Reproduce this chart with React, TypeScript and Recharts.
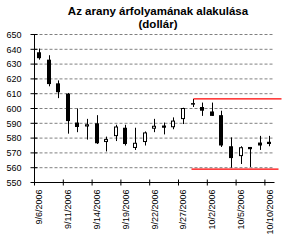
import { ComposedChart, Bar, XAxis, YAxis, CartesianGrid, ReferenceLine } from 'recharts'

const DATES = [
  '9/6/2006', '9/7/2006', '9/8/2006', '9/11/2006', '9/12/2006', '9/13/2006', '9/14/2006',
  '9/15/2006', '9/18/2006', '9/19/2006', '9/20/2006', '9/21/2006', '9/22/2006', '9/25/2006',
  '9/26/2006', '9/27/2006', '9/28/2006', '9/29/2006', '10/2/2006', '10/3/2006', '10/4/2006',
  '10/5/2006', '10/6/2006', '10/9/2006', '10/10/2006',
]
const OPEN = [638, 633, 617, 610, 590.5, 587.5, 590, 577, 581, 587, 573, 577, 586, 588.5, 587, 592.5, 603, 601, 598, 595.5, 574.5, 567.5, 574, 577, 577.5]
const HIGH = [640.5, 636, 619, 610.5, 600, 593, 595.5, 581, 589, 589, 587, 584.5, 593, 590.5, 594, 600.5, 606.5, 604, 604, 598.5, 580.5, 574.5, 574, 581.5, 581.5]
const LOW = [633, 615, 607, 583, 584, 579, 576, 571, 578, 575, 572, 575, 584, 582.5, 586, 589.5, 601, 595, 595, 574, 560, 562.5, 560.5, 572, 574.5]
const CLOSE = [634, 616.5, 611, 591.5, 587.5, 589, 576.5, 579, 587.5, 576, 576.5, 583.5, 588, 587, 591.5, 600, 603.3, 598.5, 595, 575, 566.5, 573.5, 572.5, 575, 576]
const Y_TICKS = [550, 560, 570, 580, 590, 600, 610, 620, 630, 640, 650]

// levels drawn by hand over the chart (x in trading-day units)
const RESISTANCE = { level: 606.5, from: 15.9, to: 24.7 }
const SUPPORT = { level: 559, from: 15.7, to: 24.4 }

const W = 285
const H = 249
const MARGIN = { top: 34.5, right: 10.5, bottom: 0, left: 0 }
const Y_W = 34.5
const BAND = (W - MARGIN.left - MARGIN.right - Y_W) / DATES.length

const data = DATES.map((date, i) => ({
  date,
  open: OPEN[i],
  high: HIGH[i],
  low: LOW[i],
  close: CLOSE[i],
}))

function Candle(props: any) {
  const { x, y, width, height, payload } = props
  const top = Math.min(y, y + height)
  const bottom = Math.max(y, y + height)
  const { open, high, low, close } = payload
  const ratio = (bottom - top) / (high - low)
  const wx = Math.floor(x + width / 2) + 0.5
  const yo = top + (high - open) * ratio
  const yc = top + (high - close) * ratio
  const bTop = Math.min(yo, yc)
  const bH = Math.max(1, Math.abs(yc - yo))
  const up = close >= open
  return (
    <g>
      <line x1={wx} x2={wx} y1={top} y2={bottom} stroke="#000" strokeWidth={1} />
      {up ? (
        <rect x={wx - 2} y={bTop} width={3} height={Math.max(bH - 1, 0.5)} fill="#fff" stroke="#000" strokeWidth={1} />
      ) : (
        <rect x={wx - 2.5} y={bTop} width={4} height={bH} fill="#000" />
      )}
    </g>
  )
}

function YTick(props: any) {
  const { x, y, payload } = props
  return (
    <g>
      <line x1={x - 4} x2={x + 3} y1={y} y2={y} stroke="#000" />
      <text x={x - 13} y={y + 3.2} textAnchor="end" fontSize={9} fill="#000">
        {payload.value}
      </text>
    </g>
  )
}

function XTick(props: any) {
  const { x, y, payload } = props
  const tx = x - BAND / 2
  return (
    <g>
      <line x1={tx} x2={tx} y1={y - 3} y2={y + 3} stroke="#000" />
      <text
        x={x + 3}
        y={y + 7}
        textAnchor="end"
        fontSize={9}
        fill="#000"
        transform={`rotate(-90, ${x + 3}, ${y + 7})`}
      >
        {payload.value}
      </text>
    </g>
  )
}

export default function App() {
  return (
    <div
      style={{
        position: 'absolute',
        left: 0,
        top: 0,
        width: W,
        height: H,
        background: '#fff',
        fontFamily: '"Liberation Sans", Arial, sans-serif',
      }}
    >
      <div
        style={{
          position: 'absolute',
          left: 31,
          width: 254,
          top: 5,
          textAlign: 'center',
          fontSize: 11.5,
          fontWeight: 'bold',
          lineHeight: '13px',
          color: '#000',
        }}
      >
        Az arany árfolyamának alakulása
        <br />
        (dollár)
      </div>
      <ComposedChart width={W} height={H} data={data} margin={MARGIN} style={{ position: 'absolute', left: 0, top: 0 }}>
        <CartesianGrid horizontal vertical={false} stroke="#808080" strokeDasharray="3 2" />
        <XAxis
          dataKey="date"
          interval={2}
          height={66.5}
          tickLine={false}
          tickSize={0}
          tickMargin={0}
          axisLine={{ stroke: '#000' }}
          tick={<XTick />}
        />
        <XAxis xAxisId="pos" type="number" domain={[0, DATES.length]} allowDataOverflow hide />
        <YAxis
          domain={[550, 650]}
          ticks={Y_TICKS}
          interval={0}
          width={Y_W}
          tickLine={false}
          tickSize={0}
          tickMargin={0}
          axisLine={{ stroke: '#000' }}
          tick={<YTick />}
        />
        <Bar dataKey={(d: any) => [d.low, d.high]} shape={<Candle />} isAnimationActive={false} />
        <ReferenceLine
          xAxisId="pos"
          segment={[
            { x: RESISTANCE.from, y: RESISTANCE.level },
            { x: RESISTANCE.to, y: RESISTANCE.level },
          ]}
          stroke="#FF0000"
          strokeWidth={1.3}
          ifOverflow="visible"
        />
        <ReferenceLine
          xAxisId="pos"
          segment={[
            { x: SUPPORT.from, y: SUPPORT.level },
            { x: SUPPORT.to, y: SUPPORT.level },
          ]}
          stroke="#FF0000"
          strokeWidth={1.3}
          ifOverflow="visible"
        />
      </ComposedChart>
    </div>
  )
}
